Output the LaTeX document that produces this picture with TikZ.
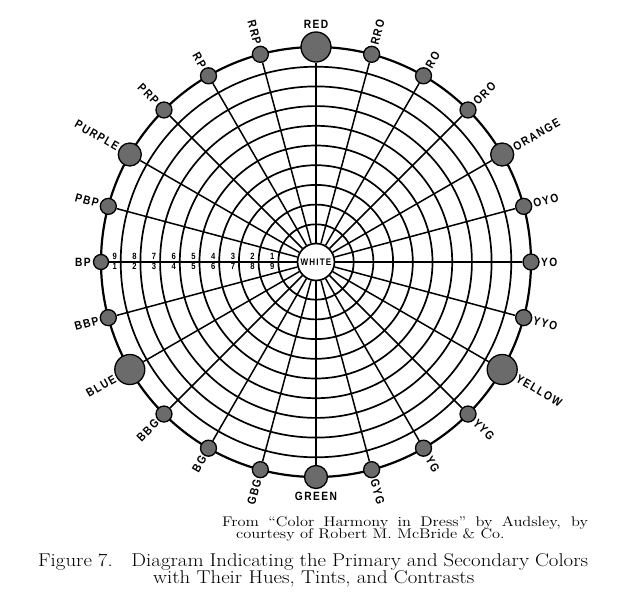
\documentclass[tikz,border=0pt]{standalone}
\usepackage{fontspec}
\newfontfamily\huefont[FakeStretch=0.85,LetterSpace=12]{Liberation Sans}
\usetikzlibrary{shapes.geometric}

\begin{document}
\begin{tikzpicture}[x=1pt, y=1pt,
  ring/.style={draw=black, line width=1.7pt},
  rim/.style={draw=black, line width=2.2pt},
  spk/.style={draw=black, line width=1.5pt},
  pdot/.style={circle, draw=black, line width=1.3pt, fill=black!58,
               inner sep=0pt, minimum size=30pt},
  sdot/.style={pdot, minimum size=23pt},
  tdot/.style={pdot, minimum size=16pt},
  hue/.style={font=\huefont\bfseries\fontsize{12}{12}\selectfont, inner sep=0pt},
  num/.style={font=\huefont\bfseries\fontsize{9}{9}\selectfont, inner sep=0pt},
  src/.style={font=\fontsize{14}{16}\selectfont, inner sep=0pt, anchor=base west},
  figcap/.style={font=\fontsize{18.5}{20}\selectfont, inner sep=0pt, anchor=base west}
]
\useasboundingbox (-316,262) rectangle (312,-338);
%% Rings
\draw[ring] (0,0) circle[radius=37.7];
\draw[ring] (0,0) circle[radius=57.4];
\draw[ring] (0,0) circle[radius=77.1];
\draw[ring] (0,0) circle[radius=96.8];
\draw[ring] (0,0) circle[radius=116.5];
\draw[ring] (0,0) circle[radius=136.2];
\draw[ring] (0,0) circle[radius=155.9];
\draw[ring] (0,0) circle[radius=175.6];
\draw[ring] (0,0) circle[radius=195.3];
\draw[rim]  (0,0) circle[radius=215];
%% Centre
\node[circle, draw=black, line width=1.7pt, fill=white, inner sep=0pt,
      minimum size=37pt, font=\huefont\bfseries\fontsize{9.5}{9.5}\selectfont]
      (white) at (0,0) {WHITE};
%% Hue dots
\node[pdot] (dRED)    at (90:215)   {};
\node[tdot] (dRRO)    at (75:215)   {};
\node[tdot] (dRO)     at (60:215)   {};
\node[tdot] (dORO)    at (45:215)   {};
\node[sdot] (dORANGE) at (30:215)   {};
\node[tdot] (dOYO)    at (15:215)   {};
\node[tdot] (dYO)     at (0:215)    {};
\node[tdot] (dYYO)    at (-15:215)  {};
\node[pdot] (dYELLOW) at (-30:215)  {};
\node[tdot] (dYYG)    at (-45:215)  {};
\node[tdot] (dYG)     at (-60:215)  {};
\node[tdot] (dGYG)    at (-75:215)  {};
\node[sdot] (dGREEN)  at (-90:215)  {};
\node[tdot] (dGBG)    at (-105:215) {};
\node[tdot] (dBG)     at (-120:215) {};
\node[tdot] (dBBG)    at (-135:215) {};
\node[pdot] (dBLUE)   at (-150:215) {};
\node[tdot] (dBBP)    at (-165:215) {};
\node[tdot, minimum size=15pt] (dBP) at (180:215) {};
\node[tdot] (dPBP)    at (165:215)  {};
\node[sdot] (dPURPLE) at (150:215)  {};
\node[tdot] (dPRP)    at (135:215)  {};
\node[tdot] (dRP)     at (120:215)  {};
\node[tdot] (dRRP)    at (105:215)  {};
%% Spokes
\draw[spk] (white)--(dRED);    \draw[spk] (white)--(dRRO);
\draw[spk] (white)--(dRO);     \draw[spk] (white)--(dORO);
\draw[spk] (white)--(dORANGE); \draw[spk] (white)--(dOYO);
\draw[spk] (white)--(dYO);     \draw[spk] (white)--(dYYO);
\draw[spk] (white)--(dYELLOW); \draw[spk] (white)--(dYYG);
\draw[spk] (white)--(dYG);     \draw[spk] (white)--(dGYG);
\draw[spk] (white)--(dGREEN);  \draw[spk] (white)--(dGBG);
\draw[spk] (white)--(dBG);     \draw[spk] (white)--(dBBG);
\draw[spk] (white)--(dBLUE);   \draw[spk] (white)--(dBBP);
\draw[spk] (white)--(dBP);     \draw[spk] (white)--(dPBP);
\draw[spk] (white)--(dPURPLE); \draw[spk] (white)--(dPRP);
\draw[spk] (white)--(dRP);     \draw[spk] (white)--(dRRP);
%% Hue names
\node[hue, anchor=south]             (lRED)    at (90:233)    {RED};
\node[hue, anchor=west, rotate=75]   (lRRO)    at (75:225)    {RRO};
\node[hue, anchor=west, rotate=60]   (lRO)     at (60:225)    {RO};
\node[hue, anchor=west, rotate=45]   (lORO)    at (45:225)    {ORO};
\node[hue, anchor=west, rotate=30]   (lORANGE) at (30:228.5)  {ORANGE};
\node[hue, anchor=west, rotate=15]   (lOYO)    at (15:225)    {OYO};
\node[hue, anchor=west]              (lYO)     at (0:225)     {YO};
\node[hue, anchor=west, rotate=-15]  (lYYO)    at (-15:225)   {YYO};
\node[hue, anchor=west, rotate=-30]  (lYELLOW) at (-30:232)   {YELLOW};
\node[hue, anchor=west, rotate=-45]  (lYYG)    at (-45:225)   {YYG};
\node[hue, anchor=west, rotate=-60]  (lYG)     at (-60:225)   {YG};
\node[hue, anchor=west, rotate=-75]  (lGYG)    at (-75:225)   {GYG};
\node[hue, anchor=north]             (lGREEN)  at (-90:229.5) {GREEN};
\node[hue, anchor=east, rotate=75]   (lGBG)    at (-105:225)  {GBG};
\node[hue, anchor=east, rotate=60]   (lBG)     at (-120:225)  {BG};
\node[hue, anchor=east, rotate=45]   (lBBG)    at (-135:225)  {BBG};
\node[hue, anchor=east, rotate=30]   (lBLUE)   at (-150:232)  {BLUE};
\node[hue, anchor=east, rotate=15]   (lBBP)    at (-165:225)  {BBP};
\node[hue, anchor=east]              (lBP)     at (180:225)   {BP};
\node[hue, anchor=east, rotate=-15]  (lPBP)    at (165:225)   {PBP};
\node[hue, anchor=east, rotate=-30]  (lPURPLE) at (150:228.5) {PURPLE};
\node[hue, anchor=east, rotate=-45]  (lPRP)    at (135:225)   {PRP};
\node[hue, anchor=east, rotate=-60]  (lRP)     at (120:225)   {RP};
\node[hue, anchor=east, rotate=-75]  (lRRP)    at (105:225)   {RRP};
%% Tint numbers, above the BP spoke
\node[num, anchor=south] (t9) at (-201.3,2.5) {9};
\node[num, anchor=south] (t8) at (-181.6,2.5) {8};
\node[num, anchor=south] (t7) at (-161.9,2.5) {7};
\node[num, anchor=south] (t6) at (-142.2,2.5) {6};
\node[num, anchor=south] (t5) at (-122.5,2.5) {5};
\node[num, anchor=south] (t4) at (-102.8,2.5) {4};
\node[num, anchor=south] (t3) at (-83.1,2.5)  {3};
\node[num, anchor=south] (t2) at (-63.4,2.5)  {2};
\node[num, anchor=south] (t1) at (-43.7,2.5)  {1};
%% Contrast numbers, below it
\node[num, anchor=north] (b1) at (-201.3,-1.5) {1};
\node[num, anchor=north] (b2) at (-181.6,-1.5) {2};
\node[num, anchor=north] (b3) at (-161.9,-1.5) {3};
\node[num, anchor=north] (b4) at (-142.2,-1.5) {4};
\node[num, anchor=north] (b5) at (-122.5,-1.5) {5};
\node[num, anchor=north] (b6) at (-102.8,-1.5) {6};
\node[num, anchor=north] (b7) at (-83.1,-1.5)  {7};
\node[num, anchor=north] (b8) at (-63.4,-1.5)  {8};
\node[num, anchor=north] (b9) at (-43.7,-1.5)  {9};
%% Caption
\node[src] (srcA) at (-94,-264)
  {\scalebox{1.173}[1]{\makebox[312pt][s]{From “Color Harmony in Dress” by Audsley, by}}};
\node[src] (srcB) at (-80,-276.5)
  {\scalebox{1.173}[1]{courtesy of Robert M. McBride \& Co.}};
\node[figcap] (capA) at (-278,-304)
  {\scalebox{1.127}[1]{\makebox[488pt][s]{Figure 7.\hspace{0.9em}Diagram Indicating the Primary and Secondary Colors}}};
\node[figcap] (capB) at (-163,-321)
  {\scalebox{1.127}[1]{with Their Hues, Tints, and Contrasts}};
\end{tikzpicture}
\end{document}
